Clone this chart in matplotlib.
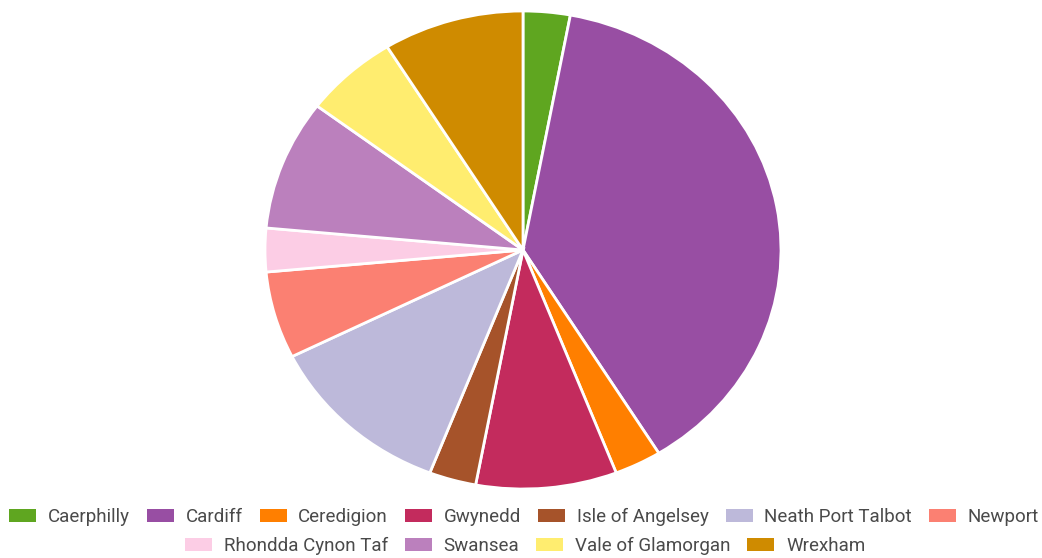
import matplotlib.pyplot as plt
from matplotlib.patches import Patch

plt.rcParams['font.family'] = ['Roboto', 'DejaVu Sans']

areas = ["Caerphilly", "Cardiff", "Ceredigion", "Gwynedd", "Isle of Angelsey",
         "Neath Port Talbot", "Newport", "Rhondda Cynon Taf", "Swansea",
         "Vale of Glamorgan", "Wrexham"]
counts = [1, 13, 1, 3, 1, 4, 2, 1, 3, 2, 3]
colors = ["#5fa620", "#984ea3", "#ff7f00", "#c32b5d", "#a6532a", "#bdb9da",
          "#fb8072", "#fccde5", "#bb80bd", "#ffed6f", "#cf8b00"]

fig = plt.figure(figsize=(10.42, 5.58), dpi=100)
# pie sits in its own box, slightly wider than tall
ax = fig.add_axes([265 / 1042, 69 / 558, 516 / 1042, 478 / 558])
ax.pie(counts, colors=colors, startangle=90, counterclock=False,
       wedgeprops=dict(edgecolor="white", linewidth=2))
ax.set_aspect("auto")
ax.set_xlim(-1, 1)
ax.set_ylim(-1, 1)

handles = [Patch(facecolor=c, edgecolor="none") for c in colors]
opts = dict(frameon=False, fontsize=13.5, handlelength=1.45, handleheight=0.7,
            handletextpad=0.62, columnspacing=0.9, labelcolor="#4a4a4a",
            borderaxespad=0, borderpad=0)
fig.legend(handles[:7], areas[:7], ncol=7, loc="center",
           bbox_to_anchor=(524 / 1042, 1 - 517 / 558), **opts)
fig.legend(handles[7:], areas[7:], ncol=4, loc="center",
           bbox_to_anchor=(525 / 1042, 1 - 546 / 558), **opts)

fig.savefig("out.png", dpi=100, facecolor="white")
